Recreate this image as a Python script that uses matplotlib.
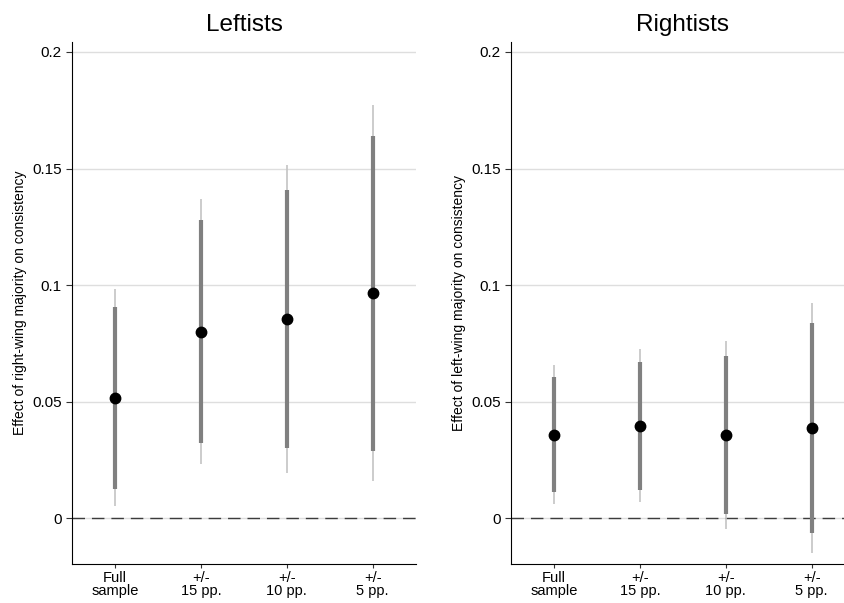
import numpy as np
import matplotlib.pyplot as plt

plt.rcParams['font.family'] = ['Liberation Sans', 'DejaVu Sans']

labels = ["Full\nsample", "+/-\n15 pp.", "+/-\n10 pp.", "+/-\n5 pp."]

# Leftists: point estimate, 90% CI (thick), 95% CI (thin)
left_est = [0.0517, 0.0800, 0.0853, 0.0965]
left_lo90 = [0.0126, 0.0322, 0.0303, 0.0289]
left_hi90 = [0.0907, 0.1279, 0.1406, 0.1640]
left_lo95 = [0.0053, 0.0232, 0.0196, 0.0159]
left_hi95 = [0.0982, 0.1370, 0.1515, 0.1771]

# Rightists
right_est = [0.0359, 0.0397, 0.0357, 0.0389]
right_lo90 = [0.0111, 0.0121, 0.0020, -0.0062]
right_hi90 = [0.0606, 0.0672, 0.0696, 0.0839]
right_lo95 = [0.0063, 0.0069, -0.0045, -0.0150]
right_hi95 = [0.0656, 0.0726, 0.0760, 0.0925]

fig = plt.figure(figsize=(8.45, 6.03), dpi=100)
ax1 = fig.add_axes([0.0856, 0.0642, 0.4062, 0.8667])
ax2 = fig.add_axes([0.6051, 0.0642, 0.4062, 0.8667])


def panel(ax, title, ylabel, est, lo90, hi90, lo95, hi95):
    x = np.arange(1, len(est) + 1)
    ax.vlines(x, lo95, hi95, color='#c4c4c4', lw=1.2, zorder=2)
    ax.vlines(x, lo90, hi90, color='#808080', lw=3.0, zorder=3)
    ax.plot(x, est, 'o', color='black', ms=7.5, zorder=4)
    ax.axhline(0, color='#3c3c3c', lw=1.0, ls=(0, (9, 5)), zorder=1)
    ax.set_xlim(0.5, 4.5)
    ax.set_ylim(-0.0197, 0.2044)
    ax.set_yticks([0, 0.05, 0.1, 0.15, 0.2])
    ax.set_yticklabels(["0", "0.05", "0.1", "0.15", "0.2"])
    ax.set_xticks(x)
    ax.set_xticklabels(labels, linespacing=0.85)
    ax.grid(axis='y', color='#dedede', lw=1.0, zorder=0)
    ax.set_axisbelow(True)
    for s in ['top', 'right']:
        ax.spines[s].set_visible(False)
    ax.spines['left'].set_linewidth(0.8)
    ax.spines['bottom'].set_linewidth(0.8)
    ax.tick_params(axis='y', labelsize=11, length=4, width=0.8, color='#333333')
    ax.tick_params(axis='x', labelsize=10.5, length=3, width=0.8, color='#333333', pad=2)
    ax.set_title(title, fontsize=17.5, pad=8)
    ax.set_ylabel(ylabel, fontsize=10, labelpad=4)


panel(ax1, "Leftists", "Effect of right-wing majority on consistency",
      left_est, left_lo90, left_hi90, left_lo95, left_hi95)
panel(ax2, "Rightists", "Effect of left-wing majority on consistency",
      right_est, right_lo90, right_hi90, right_lo95, right_hi95)

fig.savefig("out.png", dpi=100)
